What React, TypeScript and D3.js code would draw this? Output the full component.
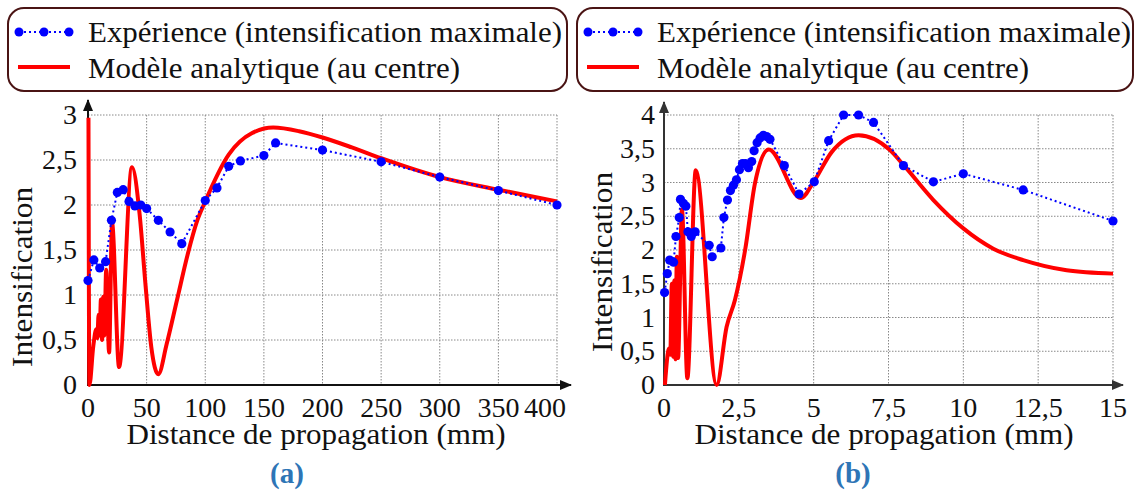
import React from "react";
import * as d3 from "d3";

// ---------- Data ----------
// Panel (a): distance in mm
const expA_x = [0, 5, 10, 15, 20, 25, 30, 35, 40, 45, 50, 60, 70, 80, 100, 110, 120, 130, 150, 160, 200, 250, 300, 350, 400];
const expA_y = [1.16, 1.39, 1.3, 1.37, 1.83, 2.14, 2.17, 2.04, 1.99, 2.0, 1.96, 1.83, 1.7, 1.57, 2.05, 2.19, 2.43, 2.49, 2.55, 2.69, 2.61, 2.48, 2.31, 2.16, 2.0];
const modA_x = [0.4, 1.2, 4.5, 7, 8, 9, 10, 11, 12, 13, 14, 15.5, 18, 20.5, 26.5, 37.5, 44, 49, 54, 60, 67, 76, 85, 93, 100, 120, 140, 158, 180, 200, 225, 250, 300, 350, 400];
const modA_y = [2.97, 0, 0.43, 0.62, 0.52, 0.78, 0.55, 0.95, 0.5, 0.98, 0.55, 1.28, 0.36, 1.8, 0.2, 2.42, 1.9, 1.12, 0.42, 0.12, 0.45, 0.95, 1.45, 1.82, 2.04, 2.56, 2.8, 2.86, 2.82, 2.75, 2.64, 2.52, 2.31, 2.17, 2.04];
const ticksAx = [0, 50, 100, 150, 200, 250, 300, 350, 400];
const ticksAy = [0, 0.5, 1, 1.5, 2, 2.5, 3];

// Panel (b)
const expB_x = [0.02, 0.11, 0.19, 0.32, 0.4, 0.51, 0.55, 0.65, 0.73, 0.8, 0.91, 1.04, 1.51, 1.61, 1.9, 2.0, 2.12, 2.22, 2.32, 2.42, 2.52, 2.62, 2.72, 2.82, 2.93, 3.01, 3.11, 3.21, 3.32, 3.43, 3.54, 4.02, 4.51, 5.02, 5.5, 6.0, 6.5, 7.0, 8.0, 9.0, 10.0, 12.0, 15.0];
const expB_y = [1.37, 1.65, 1.85, 1.82, 2.2, 2.48, 2.75, 2.69, 2.65, 2.27, 2.2, 2.27, 2.07, 1.9, 2.03, 2.48, 2.74, 2.88, 2.96, 3.04, 3.19, 3.28, 3.28, 3.22, 3.31, 3.47, 3.59, 3.66, 3.7, 3.68, 3.64, 3.25, 2.83, 3.01, 3.62, 4.0, 4.0, 3.89, 3.25, 3.01, 3.13, 2.89, 2.43];
const modB_x = [0.03, 0.17, 0.21, 0.26, 0.3, 0.34, 0.38, 0.43, 0.47, 0.6, 0.78, 1.06, 1.76, 2.09, 2.37, 2.71, 3.04, 3.5, 4.57, 5.0, 5.6, 6.5, 7.55, 8.0, 9.0, 10.0, 11.0, 12.0, 13.45, 15.0];
const modB_y = [0, 0.54, 0.45, 1.5, 0.42, 1.55, 0.38, 1.9, 0.4, 2.6, 0.1, 3.18, 0, 0.86, 1.26, 2.0, 2.99, 3.49, 2.77, 3.01, 3.45, 3.7, 3.48, 3.26, 2.74, 2.32, 2.02, 1.85, 1.7, 1.65];
const ticksBx = [0, 2.5, 5, 7.5, 10, 12.5, 15];
const ticksBy = [0, 0.5, 1, 1.5, 2, 2.5, 3, 3.5, 4];

const legendExp = "Expérience (intensification maximale)";
const legendMod = "Modèle analytique (au centre)";
const xTitle = "Distance de propagation (mm)";
const yTitle = "Intensification";

const FONT = "'Liberation Serif', 'Times New Roman', serif";
const BLUE = "#0000ff";
const RED = "#ff0000";

const fmt = (v: number) => String(v).replace(".", ",");

type PanelProps = {
  xDomain: [number, number];
  xRange: [number, number];
  yMax: number;
  xTicks: number[];
  yTicks: number[];
  ex: number[];
  ey: number[];
  mx: number[];
  my: number[];
  axisColor: string;
  arrowX: number;
  arrowY: number;
  ylabelX: number;
  ylabelY: number;
  yTickRight: number;
  lastTickShift: number;
  titleX: number;
  caption: string;
  captionX: number;
  legendBox: [number, number];
  id: string;
};

function Panel(p: PanelProps) {
  const x = d3.scaleLinear().domain(p.xDomain).range(p.xRange);
  const y = d3.scaleLinear().domain([0, p.yMax]).range([385, 115]);
  const line = d3
    .line<[number, number]>()
    .x((d) => x(d[0]))
    .y((d) => y(d[1]))
    .curve(d3.curveMonotoneX);
  const lineLin = d3
    .line<[number, number]>()
    .x((d) => x(d[0]))
    .y((d) => y(d[1]));
  const model = p.mx.map((v, i) => [v, p.my[i]] as [number, number]);
  const exp = p.ex.map((v, i) => [v, p.ey[i]] as [number, number]);
  const [x0, x1] = p.xRange;
  const [lx, lw] = p.legendBox;
  const nT = p.xTicks.length;
  return (
    <g>
      {/* legend */}
      <rect x={lx} y={8} width={lw} height={83} rx={16} ry={16} fill="white" stroke="#4a1414" strokeWidth={2} />
      <line x1={lx + 11} x2={lx + 61} y1={32} y2={32} stroke={BLUE} strokeWidth={2} strokeDasharray="2 3" />
      {[lx + 11, lx + 36, lx + 61].map((cx, i) => (
        <circle key={i} cx={cx} cy={32} r={4.5} fill={BLUE} />
      ))}
      <line x1={lx + 10} x2={lx + 62} y1={67} y2={67} stroke={RED} strokeWidth={4} />
      <text x={lx + 80} y={42} fontFamily={FONT} fontSize={30} textLength={474} lengthAdjust="spacingAndGlyphs" fill="#111">
        {legendExp}
      </text>
      <text x={lx + 80} y={78} fontFamily={FONT} fontSize={30} textLength={372} lengthAdjust="spacingAndGlyphs" fill="#111">
        {legendMod}
      </text>

      {/* grid */}
      {p.xTicks.filter((t) => t !== 0).map((t) => (
        <line key={"gx" + t} x1={x(t)} x2={x(t)} y1={y(p.yMax)} y2={385} stroke="#888" strokeWidth={1} strokeDasharray="1.5 1.5" />
      ))}
      {p.yTicks.filter((t) => t !== 0).map((t) => (
        <line key={"gy" + t} x1={x0} x2={x1} y1={y(t)} y2={y(t)} stroke="#888" strokeWidth={1} strokeDasharray="1.5 1.5" />
      ))}

      {/* axes with arrows */}
      <defs>
        <marker id={"arr" + p.id} viewBox="0 0 12 10" refX={11} refY={5} markerWidth={12} markerHeight={10} markerUnits="userSpaceOnUse" orient="auto">
          <path d="M0,0 L12,5 L0,10 Z" fill={p.axisColor} />
        </marker>
      </defs>
      <line x1={x0} x2={p.arrowX} y1={385} y2={385} stroke={p.axisColor} strokeWidth={2} markerEnd={`url(#arr${p.id})`} />
      <line x1={x0} x2={x0} y1={386} y2={p.arrowY} stroke={p.axisColor} strokeWidth={2} markerEnd={`url(#arr${p.id})`} />

      {/* series */}
      <path d={line(model) || ""} fill="none" stroke={RED} strokeWidth={4} strokeLinejoin="round" />
      <path d={lineLin(exp) || ""} fill="none" stroke={BLUE} strokeWidth={2} strokeDasharray="2 3" />
      {exp.map((d, i) => (
        <circle key={i} cx={x(d[0])} cy={y(d[1])} r={4.6} fill={BLUE} />
      ))}

      {/* tick labels */}
      {p.xTicks.map((t, i) => (
        <text key={"tx" + t} x={x(t) + (i === nT - 1 ? p.lastTickShift : 0)} y={417} textAnchor="middle" fontFamily={FONT} fontSize={28} fill="#111">
          {fmt(t)}
        </text>
      ))}
      {p.yTicks.map((t) => (
        <text key={"ty" + t} x={p.yTickRight} y={y(t)} dy="0.33em" textAnchor="end" fontFamily={FONT} fontSize={28} fill="#111">
          {fmt(t)}
        </text>
      ))}

      {/* titles */}
      <text x={p.titleX} y={444} textAnchor="middle" fontFamily={FONT} fontSize={30} textLength={379} lengthAdjust="spacingAndGlyphs" fill="#111">
        {xTitle}
      </text>
      <text
        transform={`translate(${p.ylabelX},${p.ylabelY}) rotate(-90)`}
        textAnchor="middle"
        fontFamily={FONT}
        fontSize={30}
        textLength={180}
        lengthAdjust="spacingAndGlyphs"
        fill="#111"
      >
        {yTitle}
      </text>
      <text x={p.captionX} y={483} textAnchor="middle" fontFamily={FONT} fontSize={29} fontWeight="bold" fill="#2e75b6">
        {p.caption}
      </text>
    </g>
  );
}

export default function App() {
  return (
    <svg width={1137} height={490} style={{ position: "absolute", left: 0, top: 0, background: "white" }}>
      <rect width={1137} height={490} fill="white" />
      <Panel
        id="a"
        xDomain={[0, 400]}
        xRange={[88, 557]}
        yMax={3}
        xTicks={ticksAx}
        yTicks={ticksAy}
        ex={expA_x}
        ey={expA_y}
        mx={modA_x}
        my={modA_y}
        axisColor="#111"
        arrowX={571}
        arrowY={100}
        ylabelX={32}
        ylabelY={277}
        yTickRight={77}
        lastTickShift={-12}
        titleX={316}
        caption="(a)"
        captionX={287}
        legendBox={[8, 559]}
      />
      <Panel
        id="b"
        xDomain={[0, 15]}
        xRange={[664, 1113]}
        yMax={4}
        xTicks={ticksBx}
        yTicks={ticksBy}
        ex={expB_x}
        ey={expB_y}
        mx={modB_x}
        my={modB_y}
        axisColor="#333"
        arrowX={1123}
        arrowY={102}
        ylabelX={612}
        ylabelY={262}
        yTickRight={655}
        lastTickShift={0}
        titleX={884}
        caption="(b)"
        captionX={853}
        legendBox={[577, 556]}
      />
    </svg>
  );
}
